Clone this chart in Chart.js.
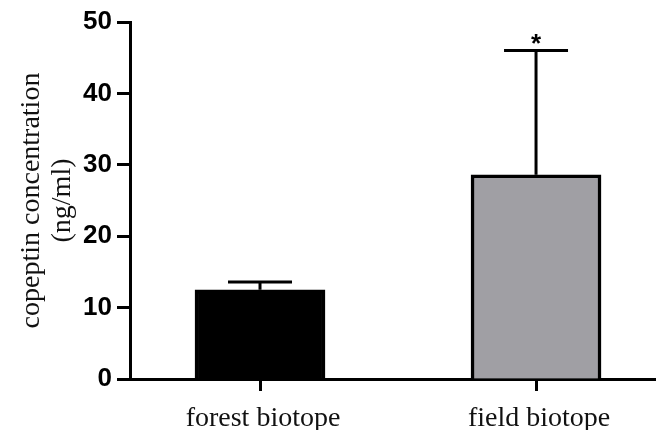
<!DOCTYPE html>
<html>
<head>
<meta charset="utf-8">
<script src="https://cdn.jsdelivr.net/npm/chart.js@4/dist/chart.umd.min.js"></script>
<style>
  html, body { margin: 0; padding: 0; background: #fff; }
  #wrap { width: 657px; height: 430px; }
</style>
</head>
<body>
<div id="wrap"><canvas id="chart" width="657" height="430"></canvas></div>
<script>
// data
const categories = ['forest biotope', 'field biotope'];
const means = [12.5, 28.6];
const errors = [1.1, 17.4];
const marks = ['', '*'];
const barColors = ['#000000', '#a09fa4'];
const yTicks = [0, 10, 20, 30, 40, 50];

// error bars + asterisk drawn through the chart scales
const errorBarPlugin = {
    id: 'errorBars',
    afterDatasetsDraw(chart) {
        const ctx = chart.ctx;
        const xs = chart.scales.x, ys = chart.scales.y;
        ctx.save();
        ctx.strokeStyle = '#000';
        ctx.fillStyle = '#000';
        means.forEach((m, i) => {
            const x = xs.getPixelForValue(i);
            const yTop = ys.getPixelForValue(m + errors[i]);
            const yBar = ys.getPixelForValue(m);
            ctx.lineWidth = 3;
            ctx.beginPath();
            ctx.moveTo(x, yBar);
            ctx.lineTo(x, yTop);
            ctx.stroke();
            ctx.beginPath();
            ctx.moveTo(x - 32, yTop);
            ctx.lineTo(x + 32, yTop);
            ctx.stroke();
            if (marks[i]) {
                ctx.font = 'bold 26px "Liberation Sans", Arial, sans-serif';
                ctx.textAlign = 'center';
                ctx.textBaseline = 'alphabetic';
                ctx.fillText(marks[i], x, yTop + 1);
            }
        });
        ctx.restore();
    }
};

new Chart(document.getElementById('chart'), {
    type: 'bar',
    data: {
        datasets: [{
            data: means.map((v, i) => ({ x: i, y: v })),
            backgroundColor: barColors,
            borderColor: '#000',
            borderWidth: 3.5,
            borderSkipped: 'bottom',
            barThickness: 130
        }]
    },
    options: {
        responsive: false,
        animation: false,
        layout: { padding: { top: 22, right: 2, left: 0, bottom: 0 } },
        plugins: { legend: { display: false }, tooltip: { enabled: false } },
        scales: {
            x: {
                type: 'linear',
                offset: false,
                min: -0.471,
                max: 1.431,
                afterBuildTicks: (s) => { s.ticks = categories.map((c, i) => ({ value: i })); },
                afterFit: (s) => { s.height = 51; },
                grid: { offset: false, drawOnChartArea: false, tickLength: 12, tickWidth: 3, tickColor: '#000' },
                border: { color: '#000', width: 3 },
                ticks: {
                    callback: (v) => categories[v],
                    color: '#111',
                    font: { family: '"Liberation Serif", "Times New Roman", serif', size: 28 },
                    padding: 11,
                    labelOffset: 3,
                    maxRotation: 0
                }
            },
            y: {
                min: 0,
                max: 50,
                afterBuildTicks: (s) => { s.ticks = yTicks.map(v => ({ value: v })); },
                afterFit: (s) => { s.width = 130; },
                grid: { drawOnChartArea: false, tickLength: 13, tickWidth: 3, tickColor: '#000' },
                border: { color: '#000', width: 3 },
                ticks: {
                    color: '#000',
                    font: { family: '"Liberation Sans", Arial, sans-serif', size: 26, weight: 'bold' },
                    padding: 5
                },
                title: {
                    display: true,
                    text: ['copeptin concentration', '(ng/ml)'],
                    color: '#111',
                    font: { family: '"Liberation Serif", "Times New Roman", serif', size: 28, lineHeight: 1.1 },
                    padding: { top: 16, bottom: 0 }
                }
            }
        }
    },
    plugins: [errorBarPlugin]
});
</script>
</body>
</html>
